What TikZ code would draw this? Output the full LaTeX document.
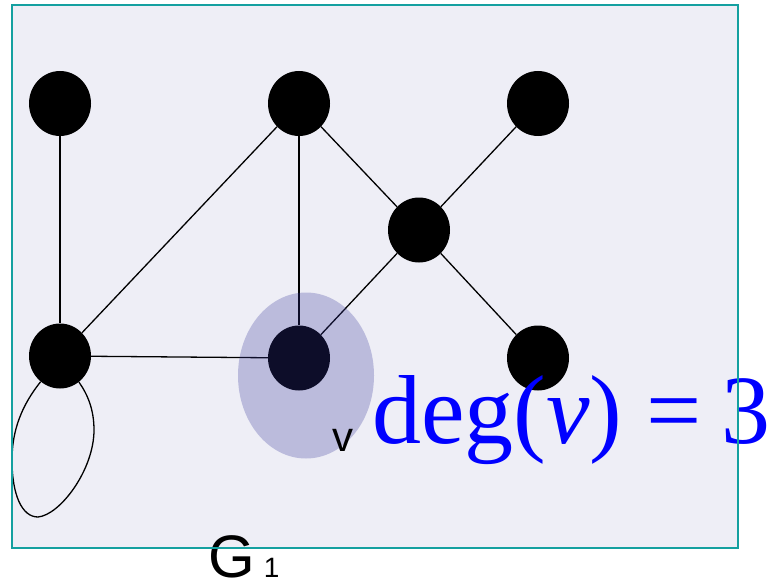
\documentclass[tikz,border=0pt]{standalone}
\usepackage{fontspec}
\setmainfont{Liberation Serif}
\setsansfont{Liberation Sans}
\usetikzlibrary{shapes.geometric}
\definecolor{GraphBack}{RGB}{238,238,246}
\definecolor{GraphFrame}{RGB}{20,160,160}
\definecolor{GraphHalo}{RGB}{51,51,153}

\begin{document}
\begin{tikzpicture}[x=1pt,y=-1pt,
  vertex/.style={ellipse,fill=black,minimum width=62pt,minimum height=65pt,inner sep=0pt},
  edge/.style={line width=1.3pt}]
  \useasboundingbox (0,0) rectangle (770,583);
  \fill[GraphBack] (12,5) rectangle (738,548);
  % vertices
  \node[vertex] (a) at (60,103.5) {};
  \node[vertex] (b) at (299,103.5) {};
  \node[vertex] (c) at (538,103.5) {};
  \node[vertex] (d) at (419,230) {};
  \node[vertex] (e) at (60,356) {};
  \node[vertex] (v) at (299,358) {};
  \node[vertex] (f) at (538,358) {};
  % edges
  \draw[edge] (a) -- (e);
  \draw[edge] (b) -- (e);
  \draw[edge] (b) -- (v);
  \draw[edge] (b) -- (d);
  \draw[edge] (c) -- (d);
  \draw[edge] (d) -- (v);
  \draw[edge] (d) -- (f);
  \draw[edge] (e) -- (v);
  % loop at e
  \draw[edge] (e.-127) .. controls (22,405) and (12,430) .. (12,460)
    .. controls (12,495) and (22,517) .. (38,517)
    .. controls (60,515) and (94,470) .. (94,430)
    .. controls (94,410) and (88,395) .. (e.-54);
  % highlight of v
  \node[ellipse,fill=GraphHalo,fill opacity=0.27,minimum width=136pt,minimum height=166pt,inner sep=0pt] (halo) at (306,375.5) {};
  % labels
  \node[anchor=base west,inner sep=0pt,font=\sffamily\fontsize{42}{42}\selectfont] (vlab) at (332,451) {v};
  \node[anchor=base west,inner sep=0pt,text=blue,font=\fontsize{98}{98}\selectfont] (deg) at (372,443) {deg(\textit{v}) =\hspace{19pt}3};
  \node[anchor=base west,inner sep=0pt,font=\sffamily] (glab) at (208,577)
    {{\fontsize{60}{60}\selectfont G}\hspace{9pt}{\fontsize{28}{28}\selectfont 1}};
  \draw[GraphFrame,line width=2pt] (12,5) rectangle (738,548);
\end{tikzpicture}
\end{document}
